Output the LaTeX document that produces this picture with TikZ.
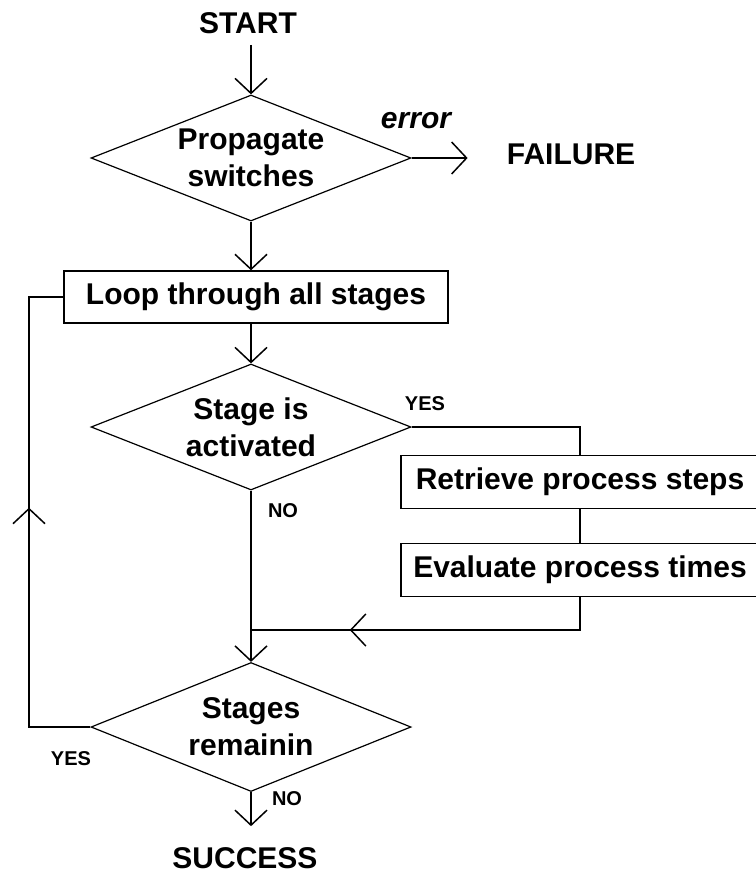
\documentclass[tikz,border=0pt]{standalone}
\usepackage{fontspec}
\setmainfont{Liberation Sans}
\newcommand\boxfont{\fontsize{30bp}{37bp}\selectfont\bfseries}
\newcommand\tagfont{\fontsize{20bp}{22bp}\selectfont\bfseries}
\newcommand\midx{251}
\usetikzlibrary{positioning,shapes.geometric,arrows.meta,decorations.markings}
\tikzset{>={Straight Barb[length=15bp,width=32bp]}}
\tikzset{box/.style={rectangle,draw=black,line width=1.4bp,minimum width=384bp,minimum height=52bp,inner sep=0pt,font=\boxfont}}
\tikzset{decision/.style={diamond,aspect=2.54,draw=black,line width=1.2bp,minimum width=320bp,minimum height=126bp,inner sep=0pt,align=center,font=\boxfont}}
\tikzset{term/.style={inner sep=0pt,font=\boxfont}}
\tikzset{answer/.style={inner sep=0pt,font=\tagfont}}
\tikzset{wire/.style={line width=1.5bp}}
\tikzset{flow/.style={wire,->}}
\tikzset{midarrow/.style={postaction={decorate},decoration={markings,mark=at position #1 with {\arrow{>}}}}}

\begin{document}
\begin{tikzpicture}[x=1bp,y=-1bp]
                \useasboundingbox (0,0) rectangle (756,875);
                \node[term] (start) at (248,23) {START};
                \node[decision] (prop) at (\midx,158) {Propagate\\switches};
                \node[term,font=\boxfont\itshape] (err) at (416,121) {error};
                \node[term] (fail) at (571,154) {FAILURE};

                \node[box] (loop) at (256,297) {Loop through all stages};

                \node[decision] (active) at (\midx,427) {Stage is\\activated};
                \node[answer] (yes1) at (425,404) {YES};
                \node[answer] (no1) at (283,511) {NO};
                \node[box,minimum width=358bp,minimum height=53bp] (retr) at (580,482) {Retrieve process steps};
                \node[box,minimum width=358bp,minimum height=53bp] (eval) at (580,570) {Evaluate process times};
                \coordinate (join) at (\midx,630);

                \node[decision,minimum height=129bp] (remain) at (\midx,727) {Stages\\remainin};
                \node[answer] (yes2) at (71,759) {YES};
                \node[answer] (no2) at (287,799) {NO};
                \coordinate (back) at (29,727);
                \node[term] (succ) at (245,858) {SUCCESS};

                \draw[flow,shorten <=11bp] (start.south -| prop.north) -- (prop.north);
                \draw[flow,shorten >=39bp] (prop.east) -- (prop.east -| fail.west);
                \draw[flow] (prop.south) -- (prop.south |- loop.north);
                \draw[flow] (prop.south |- loop.south) -- (active.north);
                \draw[wire] (active.east) -| (retr.north);
                \draw[wire] (retr) -- (eval);
                \draw[wire,midarrow=0.727] (eval.south) |- (join);
                \draw[flow] (active.south) -- (remain.north);
                \draw[wire,midarrow=0.534] (remain.west) -- (back) |- (loop.west);
                \draw[flow,shorten >=21bp] (remain.south) -- (remain.south |- succ.north);
            \end{tikzpicture}
\end{document}
